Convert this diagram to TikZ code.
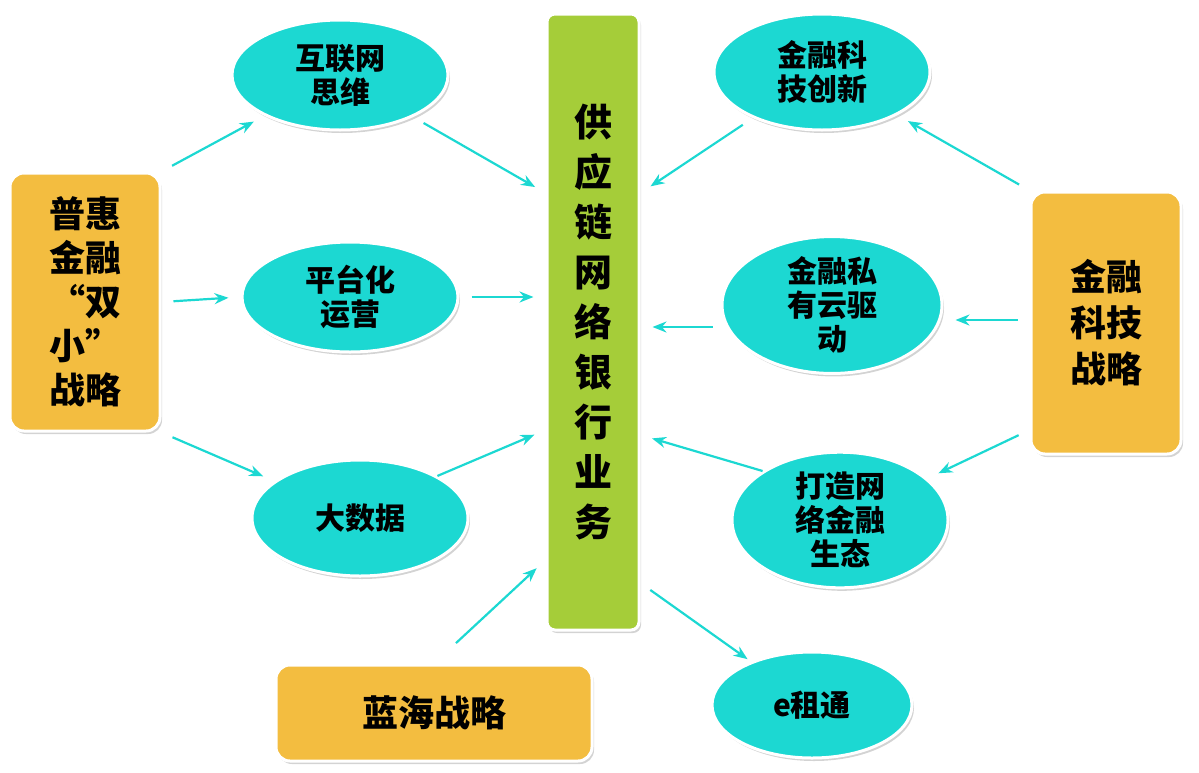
\documentclass[tikz,border=0pt]{standalone}
\usepackage{fontspec}
\setmainfont{Noto Sans CJK SC}
\usetikzlibrary{arrows.meta,shadows,shapes.geometric}
\definecolor{boxorange}{HTML}{F3BD40}
\definecolor{barg}{HTML}{A5CD39}
\definecolor{ellcyan}{HTML}{1CD8D2}
\begin{document}
\begin{tikzpicture}[x=1pt,y=-1pt,
  every node/.style={align=center,font=\fontsize{30}{34}\selectfont\bfseries},
  strat/.style={draw=white,line width=3pt,fill=boxorange,rounded corners=14pt,drop shadow={opacity=0.35,shadow xshift=2pt,shadow yshift=-3pt}},
  idea/.style={ellipse,draw=white,line width=3pt,fill=ellcyan,drop shadow={opacity=0.35,shadow xshift=2pt,shadow yshift=-3pt},inner sep=0pt},
  link/.style={ellcyan,line width=2.2pt,-{Stealth[length=14pt,width=11pt]},shorten <=12pt,shorten >=12pt}]
\useasboundingbox (0,0) rectangle (1199,772);
% strategies
\node[strat,minimum width=150pt,minimum height=258pt,font=\fontsize{36}{44}\selectfont\bfseries] (ph) at (85,302) {普惠\\金融\\“双\\小”\\战略};
\node[strat,minimum width=150pt,minimum height=262pt,font=\fontsize{36}{46}\selectfont\bfseries] (jk) at (1106,323) {金融\\科技\\战略};
\node[strat,minimum width=316pt,minimum height=96pt,font=\fontsize{36}{40}\selectfont\bfseries] (lh) at (434,713) {蓝海战略};
% center
\node[strat,fill=barg,rounded corners=8pt,minimum width=92pt,minimum height=616pt,font=\fontsize{38}{50}\selectfont\bfseries] (net) at (593,322) {供\\应\\链\\网\\络\\银\\行\\业\\务};
% ellipses
\node[idea,minimum width=216pt,minimum height=110pt] (hl) at (340,75) {互联网\\思维};
\node[idea,minimum width=216pt,minimum height=110pt] (pt) at (350,297) {平台化\\运营};
\node[idea,minimum width=216pt,minimum height=116pt] (dsj) at (360,518) {大数据};
\node[idea,minimum width=216pt,minimum height=116pt] (kj) at (822,72) {金融科\\技创新};
\node[idea,minimum width=220pt,minimum height=130pt] (yun) at (832,305) {金融私\\有云驱\\动};
\node[idea,minimum width=216pt,minimum height=130pt] (st) at (840,520) {打造网\\络金融\\生态};
\node[idea,minimum width=200pt,minimum height=106pt] (ez) at (812,705) {e租通};
% connectors
\draw[link] (ph.north east) -- (hl);
\draw[link] (ph.east) -- (pt.west);
\draw[link] (ph.south east) -- (dsj);
\draw[link] (hl) -- (net.north west |- 0,193);
\draw[link] (pt.east) -- (net.west |- pt.east);
\draw[link,shorten <=0pt] (dsj.north east) -- (net.west |- 0,430);
\draw[link,shorten <=30pt] (lh.north) -- (net.west |- 0,560);
\draw[link] (kj) -- (net.east |- 0,193);
\draw[link,shorten <=8pt] (yun.west |- 0,327) -- (net.east |- 0,327);
\draw[link,shorten <=0pt] (st.north west) -- (net.east |- 0,435);
\draw[link,shorten >=4pt] (net.east |- 0,583) -- (ez);
\draw[link] (jk.north west) -- (kj);
\draw[link] (jk.west |- 0,320) -- (yun.east |- 0,320);
\draw[link] (jk.south west |- 0,430) -- (st);
\end{tikzpicture}
\end{document}
